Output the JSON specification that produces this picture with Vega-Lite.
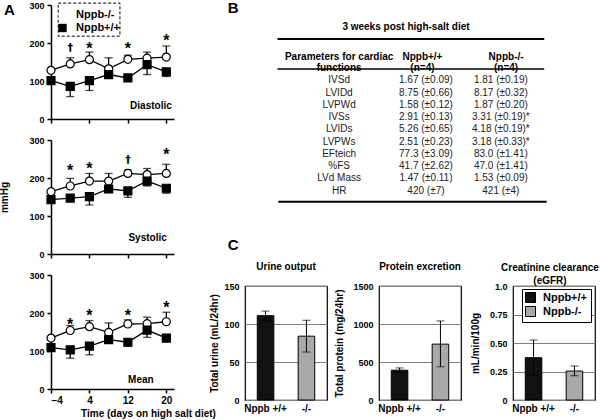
{
"$schema": "https://vega.github.io/schema/vega-lite/v6.json",
"background": "white",
"autosize": "none",
"padding": {"left": 51, "top": 5, "right": 549, "bottom": 415},
"config": {
  "font": "Liberation Sans",
  "view": {"stroke": null},
  "axis": {"domainColor": "black", "tickColor": "black", "labelColor": "black", "titleColor": "black", "labelFont": "Liberation Sans", "titleFont": "Liberation Sans", "labelFontWeight": "bold", "titleFontWeight": "bold", "labelFontSize": 9, "titleFontSize": 10, "grid": false, "labelOverlap": false},
  "text": {"font": "Liberation Sans", "color": "black"},
  "legend": {"labelFont": "Liberation Sans"},
  "title": {"font": "Liberation Sans", "color": "black"}
},
"datasets": {
  "bp": [
    {"panel": "Diastolic", "geno": "Nppb-/-", "day": -4, "mean": 128, "bound": null},
    {"panel": "Diastolic", "geno": "Nppb-/-", "day": 0, "mean": 145, "bound": 161},
    {"panel": "Diastolic", "geno": "Nppb-/-", "day": 4, "mean": 156, "bound": 176},
    {"panel": "Diastolic", "geno": "Nppb-/-", "day": 8, "mean": 132, "bound": 161},
    {"panel": "Diastolic", "geno": "Nppb-/-", "day": 12, "mean": 157, "bound": 168},
    {"panel": "Diastolic", "geno": "Nppb-/-", "day": 16, "mean": 160, "bound": 176},
    {"panel": "Diastolic", "geno": "Nppb-/-", "day": 20, "mean": 163, "bound": 192},
    {"panel": "Diastolic", "geno": "Nppb+/+", "day": -4, "mean": 101, "bound": null},
    {"panel": "Diastolic", "geno": "Nppb+/+", "day": 0, "mean": 86, "bound": 59},
    {"panel": "Diastolic", "geno": "Nppb+/+", "day": 4, "mean": 101, "bound": 75},
    {"panel": "Diastolic", "geno": "Nppb+/+", "day": 8, "mean": 117, "bound": null},
    {"panel": "Diastolic", "geno": "Nppb+/+", "day": 12, "mean": 108, "bound": null},
    {"panel": "Diastolic", "geno": "Nppb+/+", "day": 16, "mean": 143, "bound": 117},
    {"panel": "Diastolic", "geno": "Nppb+/+", "day": 20, "mean": 124, "bound": 112},
    {"panel": "Systolic", "geno": "Nppb-/-", "day": -4, "mean": 164, "bound": null},
    {"panel": "Systolic", "geno": "Nppb-/-", "day": 0, "mean": 179, "bound": 199},
    {"panel": "Systolic", "geno": "Nppb-/-", "day": 4, "mean": 192, "bound": 212},
    {"panel": "Systolic", "geno": "Nppb-/-", "day": 8, "mean": 192, "bound": 212},
    {"panel": "Systolic", "geno": "Nppb-/-", "day": 12, "mean": 212, "bound": 221},
    {"panel": "Systolic", "geno": "Nppb-/-", "day": 16, "mean": 209, "bound": 225},
    {"panel": "Systolic", "geno": "Nppb-/-", "day": 20, "mean": 212, "bound": 236},
    {"panel": "Systolic", "geno": "Nppb+/+", "day": -4, "mean": 143, "bound": null},
    {"panel": "Systolic", "geno": "Nppb+/+", "day": 0, "mean": 147, "bound": null},
    {"panel": "Systolic", "geno": "Nppb+/+", "day": 4, "mean": 151, "bound": 129},
    {"panel": "Systolic", "geno": "Nppb+/+", "day": 8, "mean": 171, "bound": null},
    {"panel": "Systolic", "geno": "Nppb+/+", "day": 12, "mean": 166, "bound": 149},
    {"panel": "Systolic", "geno": "Nppb+/+", "day": 16, "mean": 192, "bound": 179},
    {"panel": "Systolic", "geno": "Nppb+/+", "day": 20, "mean": 173, "bound": 160},
    {"panel": "Mean", "geno": "Nppb-/-", "day": -4, "mean": 134, "bound": null},
    {"panel": "Mean", "geno": "Nppb-/-", "day": 0, "mean": 154, "bound": 167},
    {"panel": "Mean", "geno": "Nppb-/-", "day": 4, "mean": 164, "bound": 180},
    {"panel": "Mean", "geno": "Nppb-/-", "day": 8, "mean": 149, "bound": 174},
    {"panel": "Mean", "geno": "Nppb-/-", "day": 12, "mean": 171, "bound": 182},
    {"panel": "Mean", "geno": "Nppb-/-", "day": 16, "mean": 172, "bound": 189},
    {"panel": "Mean", "geno": "Nppb-/-", "day": 20, "mean": 177, "bound": 202},
    {"panel": "Mean", "geno": "Nppb+/+", "day": -4, "mean": 109, "bound": null},
    {"panel": "Mean", "geno": "Nppb+/+", "day": 0, "mean": 103, "bound": 81},
    {"panel": "Mean", "geno": "Nppb+/+", "day": 4, "mean": 113, "bound": 90},
    {"panel": "Mean", "geno": "Nppb+/+", "day": 8, "mean": 130, "bound": null},
    {"panel": "Mean", "geno": "Nppb+/+", "day": 12, "mean": 123, "bound": 114},
    {"panel": "Mean", "geno": "Nppb+/+", "day": 16, "mean": 155, "bound": 136},
    {"panel": "Mean", "geno": "Nppb+/+", "day": 20, "mean": 134, "bound": 125}
  ],
  "sig": [
    {"panel": "Diastolic", "day": 0, "y": 187, "sym": "†"},
    {"panel": "Diastolic", "day": 4, "y": 196, "sym": "*"},
    {"panel": "Diastolic", "day": 12, "y": 196, "sym": "*"},
    {"panel": "Diastolic", "day": 20, "y": 216, "sym": "*"},
    {"panel": "Systolic", "day": 0, "y": 229, "sym": "*"},
    {"panel": "Systolic", "day": 4, "y": 233, "sym": "*"},
    {"panel": "Systolic", "day": 12, "y": 247, "sym": "†"},
    {"panel": "Systolic", "day": 20, "y": 271, "sym": "*"},
    {"panel": "Mean", "day": 0, "y": 178, "sym": "*"},
    {"panel": "Mean", "day": 4, "y": 202, "sym": "*"},
    {"panel": "Mean", "day": 12, "y": 202, "sym": "*"},
    {"panel": "Mean", "day": 20, "y": 224, "sym": "*"}
  ],
  "table": [
    {"row": 1, "param": "IVSd", "wt": "1.67 (±0.09)", "ko": "1.81 (±0.19)"},
    {"row": 2, "param": "LVIDd", "wt": "8.75  (±0.66)", "ko": "8.17  (±0.32)"},
    {"row": 3, "param": "LVPWd", "wt": "1.58 (±0.12)", "ko": "1.87 (±0.20)"},
    {"row": 4, "param": "IVSs", "wt": "2.91 (±0.13)", "ko": "3.31 (±0.19)*"},
    {"row": 5, "param": "LVIDs", "wt": "5.26 (±0.65)", "ko": "4.18 (±0.19)*"},
    {"row": 6, "param": "LVPWs", "wt": "2.51 (±0.23)", "ko": "3.18 (±0.33)*"},
    {"row": 7, "param": "EFteich", "wt": "77.3 (±3.09)", "ko": "83.0 (±1.41)"},
    {"row": 8, "param": "%FS", "wt": "41.7 (±2.62)", "ko": "47.0 (±1.41)"},
    {"row": 9, "param": "LVd Mass", "wt": "1.47 (±0.11)", "ko": "1.53 (±0.09)"},
    {"row": 10, "param": "HR", "wt": "420 (±7)", "ko": "421 (±4)"}
  ],
  "renal": [
    {"assay": "urine", "label": "Nppb +/+", "geno": "Nppb+/+", "value": 111, "lo": 105, "hi": 117},
    {"assay": "urine", "label": "-/-", "geno": "Nppb-/-", "value": 84, "lo": 63, "hi": 105},
    {"assay": "protein", "label": "Nppb +/+", "geno": "Nppb+/+", "value": 392, "lo": 362, "hi": 422},
    {"assay": "protein", "label": "-/-", "geno": "Nppb-/-", "value": 735, "lo": 437, "hi": 1040},
    {"assay": "egfr", "label": "Nppb +/+", "geno": "Nppb+/+", "value": 0.371, "lo": 0.216, "hi": 0.526},
    {"assay": "egfr", "label": "-/-", "geno": "Nppb-/-", "value": 0.254, "lo": 0.212, "hi": 0.298}
  ]
},
"bounds": "flush",
"spacing": 194,
"resolve": {"scale": {"fill": "independent", "shape": "independent"}, "legend": {"fill": "independent", "shape": "independent"}},
"hconcat": [
  {
    "vconcat": [
      {
        "width": 123, "height": 114,
        "layer": [
          {
            "encoding": {
              "x": {"field": "day", "type": "quantitative", "title": null, "scale": {"domain": [-4, 21.6], "nice": false, "zero": false}, "axis": {"values": [-4, 4, 12, 20], "labels": false, "domainWidth": 1.5, "tickWidth": 1.5, "tickSize": 4}},
              "y": {"field": "mean", "type": "quantitative", "title": null, "scale": {"domain": [0, 300], "nice": false}, "axis": {"values": [0, 100, 200, 300], "domainWidth": 1.5, "tickWidth": 1.5, "tickSize": 4, "labelPadding": 3}}
            },
            "layer": [
              {"data": {"name": "bp"}, "transform": [{"filter": "datum.panel === 'Diastolic' && datum.bound != null"}], "mark": {"type": "rule", "color": "black", "strokeWidth": 1.3}, "encoding": {"y2": {"field": "bound"}}},
              {"data": {"name": "bp"}, "transform": [{"filter": "datum.panel === 'Diastolic' && datum.bound != null"}], "mark": {"type": "tick", "orient": "horizontal", "size": 8, "thickness": 1.3, "color": "black"}, "encoding": {"y": {"field": "bound", "type": "quantitative"}}},
              {"data": {"name": "bp"}, "transform": [{"filter": "datum.panel === 'Diastolic'"}], "mark": {"type": "line", "color": "black", "strokeWidth": 1.3}, "encoding": {"detail": {"field": "geno", "type": "nominal"}}},
              {"data": {"name": "bp"}, "transform": [{"filter": "datum.panel === 'Diastolic'"}], "mark": {"type": "point", "stroke": "black", "strokeWidth": 1.2, "opacity": 1, "fillOpacity": 1, "size": 64},
               "encoding": {
                 "shape": {"field": "geno", "type": "nominal", "scale": {"domain": ["Nppb-/-", "Nppb+/+"], "range": ["circle", "square"]}, "legend": {"orient": "none", "legendX": 6, "legendY": 4.5, "title": null, "labelFontSize": 11, "labelFontWeight": "bold", "labelColor": "black", "symbolStrokeColor": "black", "symbolStrokeWidth": 1.2, "symbolSize": 70, "rowPadding": -4, "padding": 0, "labelOffset": 8}},
                 "fill": {"field": "geno", "type": "nominal", "scale": {"domain": ["Nppb-/-", "Nppb+/+"], "range": ["white", "black"]}, "legend": {"orient": "none", "legendX": 6, "legendY": 4.5, "title": null, "labelFontSize": 11, "labelFontWeight": "bold", "labelColor": "black", "symbolStrokeColor": "black", "symbolStrokeWidth": 1.2, "symbolSize": 70, "rowPadding": -4, "padding": 0, "labelOffset": 8}}
               }},
              {"data": {"name": "sig"}, "transform": [{"filter": "datum.panel === 'Diastolic' && datum.sym === '*'"}], "mark": {"type": "text", "fontSize": 16, "fontWeight": "bold", "baseline": "middle", "dy": 4, "color": "black"}, "encoding": {"y": {"field": "y", "type": "quantitative"}, "text": {"field": "sym"}}},
              {"data": {"name": "sig"}, "transform": [{"filter": "datum.panel === 'Diastolic' && datum.sym !== '*'"}], "mark": {"type": "text", "font": "DejaVu Sans", "fontSize": 11, "fontWeight": "bold", "baseline": "middle", "color": "black"}, "encoding": {"y": {"field": "y", "type": "quantitative"}, "text": {"field": "sym"}}}
            ]
          },
          {"data": {"values": [{"label": "Diastolic"}]}, "mark": {"type": "text", "fontSize": 10, "fontWeight": "bold"}, "encoding": {
            "x": {"datum": 16.8, "title": null, "axis": {"values": [-4, 4, 12, 20], "labels": false, "domainWidth": 1.5, "tickWidth": 1.5, "tickSize": 4}},
            "y": {"datum": 34, "title": null, "axis": {"values": [0, 100, 200, 300], "domainWidth": 1.5, "tickWidth": 1.5, "tickSize": 4, "labelPadding": 3}},
            "text": {"field": "label"}}},
          {"data": {"values": [{"box": "legend"}]}, "mark": {"type": "rect", "filled": false, "color": "black", "strokeWidth": 1, "strokeDash": [3, 2]}, "encoding": {
            "x": {"datum": -2.5, "title": null, "axis": {"values": [-4, 4, 12, 20], "labels": false, "domainWidth": 1.5, "tickWidth": 1.5, "tickSize": 4}},
            "x2": {"datum": 10.35},
            "y": {"datum": 305, "title": null, "axis": {"values": [0, 100, 200, 300], "domainWidth": 1.5, "tickWidth": 1.5, "tickSize": 4, "labelPadding": 3}},
            "y2": {"datum": 218}}},
          {"data": {"values": [{"letter": "A"}]}, "mark": {"type": "text", "fontSize": 15, "fontWeight": "bold"}, "encoding": {
            "x": {"datum": -12.67, "title": null, "axis": {"values": [-4, 4, 12, 20], "labels": false, "domainWidth": 1.5, "tickWidth": 1.5, "tickSize": 4}},
            "y": {"datum": 288, "title": null, "axis": {"values": [0, 100, 200, 300], "domainWidth": 1.5, "tickWidth": 1.5, "tickSize": 4, "labelPadding": 3}},
            "text": {"field": "letter"}}}
        ]
      },
      {
        "width": 123, "height": 114,
        "layer": [
          {
            "encoding": {
              "x": {"field": "day", "type": "quantitative", "title": null, "scale": {"domain": [-4, 21.6], "nice": false, "zero": false}, "axis": {"values": [-4, 4, 12, 20], "labels": false, "domainWidth": 1.5, "tickWidth": 1.5, "tickSize": 4}},
              "y": {"field": "mean", "type": "quantitative", "title": "mmHg", "scale": {"domain": [0, 300], "nice": false}, "axis": {"values": [0, 100, 200, 300], "domainWidth": 1.5, "tickWidth": 1.5, "tickSize": 4, "labelPadding": 3, "titlePadding": 19}}
            },
            "layer": [
              {"data": {"name": "bp"}, "transform": [{"filter": "datum.panel === 'Systolic' && datum.bound != null"}], "mark": {"type": "rule", "color": "black", "strokeWidth": 1.3}, "encoding": {"y2": {"field": "bound"}}},
              {"data": {"name": "bp"}, "transform": [{"filter": "datum.panel === 'Systolic' && datum.bound != null"}], "mark": {"type": "tick", "orient": "horizontal", "size": 8, "thickness": 1.3, "color": "black"}, "encoding": {"y": {"field": "bound", "type": "quantitative"}}},
              {"data": {"name": "bp"}, "transform": [{"filter": "datum.panel === 'Systolic'"}], "mark": {"type": "line", "color": "black", "strokeWidth": 1.3}, "encoding": {"detail": {"field": "geno", "type": "nominal"}}},
              {"data": {"name": "bp"}, "transform": [{"filter": "datum.panel === 'Systolic'"}], "mark": {"type": "point", "stroke": "black", "strokeWidth": 1.2, "opacity": 1, "fillOpacity": 1, "size": 64},
               "encoding": {
                 "shape": {"field": "geno", "type": "nominal", "scale": {"domain": ["Nppb-/-", "Nppb+/+"], "range": ["circle", "square"]}, "legend": null},
                 "fill": {"field": "geno", "type": "nominal", "scale": {"domain": ["Nppb-/-", "Nppb+/+"], "range": ["white", "black"]}, "legend": null}
               }},
              {"data": {"name": "sig"}, "transform": [{"filter": "datum.panel === 'Systolic' && datum.sym === '*'"}], "mark": {"type": "text", "fontSize": 16, "fontWeight": "bold", "baseline": "middle", "dy": 4, "color": "black"}, "encoding": {"y": {"field": "y", "type": "quantitative"}, "text": {"field": "sym"}}},
              {"data": {"name": "sig"}, "transform": [{"filter": "datum.panel === 'Systolic' && datum.sym !== '*'"}], "mark": {"type": "text", "font": "DejaVu Sans", "fontSize": 11, "fontWeight": "bold", "baseline": "middle", "color": "black"}, "encoding": {"y": {"field": "y", "type": "quantitative"}, "text": {"field": "sym"}}}
            ]
          },
          {"data": {"values": [{"label": "Systolic"}]}, "mark": {"type": "text", "fontSize": 10, "fontWeight": "bold"}, "encoding": {
            "x": {"datum": 16.1, "title": null, "axis": {"values": [-4, 4, 12, 20], "labels": false, "domainWidth": 1.5, "tickWidth": 1.5, "tickSize": 4}},
            "y": {"datum": 42, "title": "mmHg", "axis": {"values": [0, 100, 200, 300], "domainWidth": 1.5, "tickWidth": 1.5, "tickSize": 4, "labelPadding": 3, "titlePadding": 19}},
            "text": {"field": "label"}}}
        ]
      },
      {
        "width": 123, "height": 114,
        "layer": [
          {
            "encoding": {
              "x": {"field": "day", "type": "quantitative", "title": "Time (days on high salt diet)", "scale": {"domain": [-4, 21.6], "nice": false, "zero": false}, "axis": {"values": [-4, 4, 12, 20], "domainWidth": 1.5, "tickWidth": 1.5, "tickSize": 4, "labelFontSize": 10, "labelPadding": 2, "titlePadding": 3, "titleX": 97, "titleAlign": "center"}},
              "y": {"field": "mean", "type": "quantitative", "title": null, "scale": {"domain": [0, 300], "nice": false}, "axis": {"values": [0, 100, 200, 300], "domainWidth": 1.5, "tickWidth": 1.5, "tickSize": 4, "labelPadding": 3}}
            },
            "layer": [
              {"data": {"name": "bp"}, "transform": [{"filter": "datum.panel === 'Mean' && datum.bound != null"}], "mark": {"type": "rule", "color": "black", "strokeWidth": 1.3}, "encoding": {"y2": {"field": "bound"}}},
              {"data": {"name": "bp"}, "transform": [{"filter": "datum.panel === 'Mean' && datum.bound != null"}], "mark": {"type": "tick", "orient": "horizontal", "size": 8, "thickness": 1.3, "color": "black"}, "encoding": {"y": {"field": "bound", "type": "quantitative"}}},
              {"data": {"name": "bp"}, "transform": [{"filter": "datum.panel === 'Mean'"}], "mark": {"type": "line", "color": "black", "strokeWidth": 1.3}, "encoding": {"detail": {"field": "geno", "type": "nominal"}}},
              {"data": {"name": "bp"}, "transform": [{"filter": "datum.panel === 'Mean'"}], "mark": {"type": "point", "stroke": "black", "strokeWidth": 1.2, "opacity": 1, "fillOpacity": 1, "size": 64},
               "encoding": {
                 "shape": {"field": "geno", "type": "nominal", "scale": {"domain": ["Nppb-/-", "Nppb+/+"], "range": ["circle", "square"]}, "legend": null},
                 "fill": {"field": "geno", "type": "nominal", "scale": {"domain": ["Nppb-/-", "Nppb+/+"], "range": ["white", "black"]}, "legend": null}
               }},
              {"data": {"name": "sig"}, "transform": [{"filter": "datum.panel === 'Mean' && datum.sym === '*'"}], "mark": {"type": "text", "fontSize": 16, "fontWeight": "bold", "baseline": "middle", "dy": 4, "color": "black"}, "encoding": {"y": {"field": "y", "type": "quantitative"}, "text": {"field": "sym"}}}
            ]
          },
          {"data": {"values": [{"label": "Mean"}]}, "mark": {"type": "text", "fontSize": 10, "fontWeight": "bold"}, "encoding": {
            "x": {"datum": 14.7, "title": "Time (days on high salt diet)", "axis": {"values": [-4, 4, 12, 20], "domainWidth": 1.5, "tickWidth": 1.5, "tickSize": 4, "labelFontSize": 10, "labelPadding": 2, "titlePadding": 3, "titleX": 97, "titleAlign": "center"}},
            "y": {"datum": 24, "title": null, "axis": {"values": [0, 100, 200, 300], "domainWidth": 1.5, "tickWidth": 1.5, "tickSize": 4, "labelPadding": 3}},
            "text": {"field": "label"}}}
        ]
      }
    ],
    "spacing": 21,
    "bounds": "flush",
    "resolve": {"scale": {"fill": "independent", "shape": "independent"}, "legend": {"fill": "independent", "shape": "independent"}}
  },
  {
    "vconcat": [
      {
        "width": 350, "height": 197,
        "layer": [
          {"data": {"name": "table"}, "mark": {"type": "text", "fontSize": 10, "color": "#222222"}, "encoding": {"x": {"datum": 0.269, "scale": {"domain": [0, 1], "nice": false, "zero": false}, "axis": null}, "y": {"field": "row", "type": "quantitative", "scale": {"domain": [-5.137, 10.918], "reverse": true, "nice": false, "zero": false}, "axis": null}, "text": {"field": "param"}}},
          {"data": {"name": "table"}, "mark": {"type": "text", "fontSize": 10, "color": "#222222"}, "encoding": {"x": {"datum": 0.517}, "y": {"field": "row", "type": "quantitative"}, "text": {"field": "wt"}}},
          {"data": {"name": "table"}, "mark": {"type": "text", "fontSize": 10, "color": "#222222"}, "encoding": {"x": {"datum": 0.731}, "y": {"field": "row", "type": "quantitative"}, "text": {"field": "ko"}}},
          {"data": {"values": [{"head": "Parameters for cardiac\nfunctions"}]}, "mark": {"type": "text", "fontSize": 10, "fontWeight": "bold", "lineBreak": "\n", "lineHeight": 11}, "encoding": {"x": {"datum": 0.269}, "y": {"datum": -0.883}, "text": {"field": "head"}}},
          {"data": {"values": [{"head": "Nppb+/+\n(n=4)"}]}, "mark": {"type": "text", "fontSize": 10, "fontWeight": "bold", "lineBreak": "\n", "lineHeight": 11}, "encoding": {"x": {"datum": 0.507}, "y": {"datum": -0.883}, "text": {"field": "head"}}},
          {"data": {"values": [{"head": "Nppb-/-\n(n=4)"}]}, "mark": {"type": "text", "fontSize": 10, "fontWeight": "bold", "lineBreak": "\n", "lineHeight": 11}, "encoding": {"x": {"datum": 0.746}, "y": {"datum": -0.883}, "text": {"field": "head"}}},
          {"data": {"values": [{"title": "3 weeks post high-salt diet"}]}, "mark": {"type": "text", "fontSize": 10, "fontWeight": "bold"}, "encoding": {"x": {"datum": 0.46}, "y": {"datum": -3.32}, "text": {"field": "title"}}},
          {"data": {"values": [{"rule": "top"}]}, "mark": {"type": "rule", "color": "black", "strokeWidth": 2}, "encoding": {"x": {"datum": 0.093}, "x2": {"datum": 0.855}, "y": {"datum": -2.37}}},
          {"data": {"values": [{"rule": "header"}]}, "mark": {"type": "rule", "color": "black", "strokeWidth": 1.5}, "encoding": {"x": {"datum": 0.093}, "x2": {"datum": 0.855}, "y": {"datum": 0.08}}},
          {"data": {"values": [{"rule": "bottom"}]}, "mark": {"type": "rule", "color": "black", "strokeWidth": 2}, "encoding": {"x": {"datum": 0.095}, "x2": {"datum": 0.862}, "y": {"datum": 10.9}}},
          {"data": {"values": [{"letter": "B"}]}, "mark": {"type": "text", "fontSize": 15, "fontWeight": "bold"}, "encoding": {"x": {"datum": -0.034}, "y": {"datum": -4.93}, "text": {"field": "letter"}}},
          {"data": {"values": [{"letter": "C"}]}, "mark": {"type": "text", "fontSize": 15, "fontWeight": "bold"}, "encoding": {"x": {"datum": -0.034}, "y": {"datum": 14.46}, "text": {"field": "letter"}}}
        ]
      },
      {
        "hconcat": [
          {
            "width": 82, "height": 114,
            "view": {"stroke": "black", "strokeWidth": 1.2},
            "title": {"text": "Urine output", "fontSize": 10, "fontWeight": "bold", "offset": 10},
            "data": {"name": "renal"},
            "transform": [{"filter": "datum.assay === 'urine'"}],
            "encoding": {
              "x": {"field": "label", "type": "nominal", "title": null, "scale": {"domain": ["Nppb +/+", "-/-"], "paddingInner": 0.595, "paddingOuter": 0.3}, "axis": {"labelAngle": 0, "ticks": false, "domain": false, "labelPadding": 3, "labelFontSize": 10}},
              "y": {"field": "value", "type": "quantitative", "title": "Total urine (mL/24hr)", "scale": {"domain": [0, 150], "nice": false}, "axis": {"values": [0, 50, 100, 150], "grid": true, "gridColor": "#808080", "domain": false, "ticks": false, "labelPadding": 6, "titlePadding": 4.5}}
            },
            "layer": [
              {"mark": {"type": "bar", "stroke": "black", "strokeWidth": 1}, "encoding": {
                "fill": {"field": "geno", "type": "nominal", "scale": {"domain": ["Nppb+/+", "Nppb-/-"], "range": ["#111111", "#a9a9a9"]}, "legend": null}}},
              {"mark": {"type": "rule", "color": "black", "strokeWidth": 1}, "encoding": {"y": {"field": "lo", "type": "quantitative"}, "y2": {"field": "hi"}}},
              {"mark": {"type": "tick", "orient": "horizontal", "size": 8, "thickness": 1, "color": "black"}, "encoding": {"y": {"field": "hi", "type": "quantitative"}}},
              {"mark": {"type": "tick", "orient": "horizontal", "size": 8, "thickness": 1, "color": "black"}, "encoding": {"y": {"field": "lo", "type": "quantitative"}}}
            ]
          },
          {
            "width": 82, "height": 114,
            "view": {"stroke": "black", "strokeWidth": 1.2},
            "title": {"text": "Protein excretion", "fontSize": 10, "fontWeight": "bold", "offset": 10},
            "data": {"name": "renal"},
            "transform": [{"filter": "datum.assay === 'protein'"}],
            "encoding": {
              "x": {"field": "label", "type": "nominal", "title": null, "scale": {"domain": ["Nppb +/+", "-/-"], "paddingInner": 0.595, "paddingOuter": 0.3}, "axis": {"labelAngle": 0, "ticks": false, "domain": false, "labelPadding": 3, "labelFontSize": 10}},
              "y": {"field": "value", "type": "quantitative", "title": "Total protein (mg/24hr)", "scale": {"domain": [0, 1500], "nice": false}, "axis": {"values": [0, 500, 1000, 1500], "format": "d", "grid": true, "gridColor": "#808080", "domain": false, "ticks": false, "labelPadding": 6, "titlePadding": 8.5}}
            },
            "layer": [
              {"mark": {"type": "bar", "stroke": "black", "strokeWidth": 1}, "encoding": {
                "fill": {"field": "geno", "type": "nominal", "scale": {"domain": ["Nppb+/+", "Nppb-/-"], "range": ["#111111", "#a9a9a9"]}, "legend": null}}},
              {"mark": {"type": "rule", "color": "black", "strokeWidth": 1}, "encoding": {"y": {"field": "lo", "type": "quantitative"}, "y2": {"field": "hi"}}},
              {"mark": {"type": "tick", "orient": "horizontal", "size": 8, "thickness": 1, "color": "black"}, "encoding": {"y": {"field": "hi", "type": "quantitative"}}},
              {"mark": {"type": "tick", "orient": "horizontal", "size": 8, "thickness": 1, "color": "black"}, "encoding": {"y": {"field": "lo", "type": "quantitative"}}}
            ]
          },
          {
            "width": 82, "height": 114,
            "view": {"stroke": "black", "strokeWidth": 1.2},
            "title": {"text": ["Creatinine clearance", "(eGFR)"], "fontSize": 10, "fontWeight": "bold", "offset": -4, "lineHeight": 13, "dx": -4},
            "data": {"name": "renal"},
            "transform": [{"filter": "datum.assay === 'egfr'"}],
            "encoding": {
              "x": {"field": "label", "type": "nominal", "title": null, "scale": {"domain": ["Nppb +/+", "-/-"], "paddingInner": 0.595, "paddingOuter": 0.3}, "axis": {"labelAngle": 0, "ticks": false, "domain": false, "labelPadding": 3, "labelFontSize": 10}},
              "y": {"field": "value", "type": "quantitative", "title": "mL/min/100g", "scale": {"domain": [0, 1], "nice": false}, "axis": {"values": [0, 0.25, 0.5, 0.75, 1], "labelExpr": "datum.value == 1 ? '1.0' : datum.value == 0 ? '0' : format(datum.value, '.2f')", "grid": true, "gridColor": "#808080", "domain": false, "ticks": false, "labelPadding": 6, "titlePadding": 9}}
            },
            "layer": [
              {"mark": {"type": "bar", "stroke": "black", "strokeWidth": 1}, "encoding": {
                "fill": {"field": "geno", "type": "nominal", "scale": {"domain": ["Nppb+/+", "Nppb-/-"], "range": ["#111111", "#a9a9a9"]}, "legend": {"orient": "none", "legendX": 9, "legendY": 3, "title": null, "labelFontSize": 11, "labelFontWeight": "bold", "labelColor": "black", "symbolType": "square", "symbolSize": 100, "symbolStrokeColor": "black", "symbolStrokeWidth": 1, "strokeColor": "black", "fillColor": "white", "padding": 3, "rowPadding": -1, "labelOffset": 7}}}},
              {"mark": {"type": "rule", "color": "black", "strokeWidth": 1}, "encoding": {"y": {"field": "lo", "type": "quantitative"}, "y2": {"field": "hi"}}},
              {"mark": {"type": "tick", "orient": "horizontal", "size": 8, "thickness": 1, "color": "black"}, "encoding": {"y": {"field": "hi", "type": "quantitative"}}},
              {"mark": {"type": "tick", "orient": "horizontal", "size": 8, "thickness": 1, "color": "black"}, "encoding": {"y": {"field": "lo", "type": "quantitative"}}}
            ]
          }
        ],
        "spacing": 52,
        "bounds": "flush",
        "resolve": {"scale": {"fill": "independent"}, "legend": {"fill": "independent"}}
      }
    ],
    "spacing": 84,
    "bounds": "flush",
    "resolve": {"scale": {"fill": "independent", "shape": "independent"}, "legend": {"fill": "independent", "shape": "independent"}}
  }
]
}
